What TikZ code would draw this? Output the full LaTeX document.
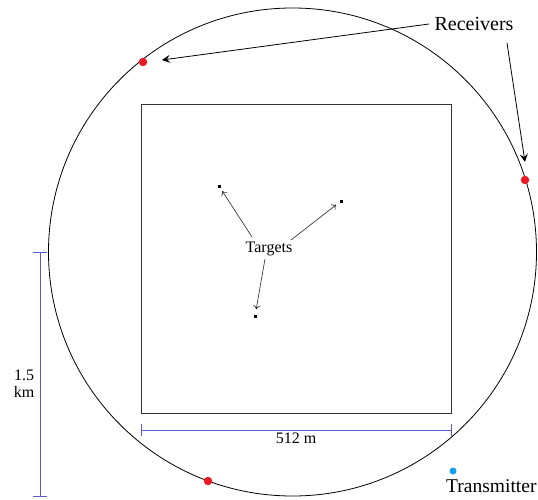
\documentclass[tikz,border=0pt]{standalone}
\usepackage{fontspec}
\setmainfont{Liberation Serif}
\usetikzlibrary{arrows.meta}
\definecolor{dimblue}{RGB}{90,90,215}
\definecolor{rxred}{RGB}{235,25,35}
\definecolor{txblue}{RGB}{20,160,230}
\tikzset{
  rxdot/.style={circle,fill=rxred,inner sep=0pt,minimum size=8.5pt},
  txdot/.style={circle,fill=txblue,inner sep=0pt,minimum size=7pt},
  tgdot/.style={rectangle,fill=black,inner sep=0pt,minimum size=3pt},
  lbl/.style={inner sep=0pt,text=black},
  rxarrow/.style={-{Stealth[length=8pt,width=8pt,inset=3pt]},line width=0.8pt},
  tgarrow/.style={-{To[length=4pt,width=7pt]},line width=0.6pt,draw=black!85},
  dimline/.style={draw=dimblue,line width=0.9pt},
}
\begin{document}
\begin{tikzpicture}[x=1pt,y=-1pt]
\useasboundingbox[fill=white] (0,0) rectangle (538,500);
% outer circle
\draw[line width=0.8pt] (292.5,252) circle[radius=244];
% square area
\draw[line width=0.8pt,draw=black!80] (141,104) rectangle (451,413);
% receivers
\node[rxdot] (r1) at (143,62) {};
\node[rxdot] (r2) at (525,180) {};
\node[rxdot] (r3) at (208,481) {};
\node[lbl,font=\fontsize{20}{22}\selectfont] (rec) at (474,24) {Receivers};
\coordinate (rectail1) at (429,24);
\coordinate (rechead1) at (162,60);
\coordinate (rectail2) at (507,43);
\coordinate (rechead2) at (525,162);
\draw[rxarrow] (rectail1) -- (rechead1);
\draw[rxarrow] (rectail2) -- (rechead2);
% targets
\node[tgdot] (t1) at (219,186) {};
\node[tgdot] (t2) at (341,201) {};
\node[tgdot] (t3) at (255,316) {};
\node[lbl,font=\fontsize{16}{18}\selectfont] (tg) at (269,249) {Targets};
\coordinate (ta1) at (252,237);
\coordinate (ta2) at (291,240);
\coordinate (ta3) at (265,259);
\draw[tgarrow,shorten >=4pt] (ta1) -- (t1);
\draw[tgarrow,shorten >=4pt] (ta2) -- (t2);
\draw[tgarrow,shorten >=5pt] (ta3) -- (t3);
% transmitter
\node[txdot] (tx) at (453,471) {};
\node[lbl,font=\fontsize{19.5}{21}\selectfont,anchor=west] (txl) at (446,486) {Transmitter};
% dimension 512 m
\coordinate (dl) at (141,430);
\coordinate (dr) at (451,430);
\draw[dimline] (dl) -- (dr);
\draw[dimline] (141,424) -- (141,436);
\draw[dimline] (451,424) -- (451,436);
\node[lbl,font=\fontsize{16}{18}\selectfont] (dim1) at (296,438) {512 m};
% dimension 1.5 km
\coordinate (vt) at (40,252);
\coordinate (vb) at (40,496);
\draw[dimline] (vt) -- (vb);
\draw[dimline] (33,252) -- (47,252);
\draw[dimline] (33,496) -- (47,496);
\node[lbl,font=\fontsize{16}{17}\selectfont,align=center] (dim2) at (24,384) {1.5\\km};
\end{tikzpicture}
\end{document}
